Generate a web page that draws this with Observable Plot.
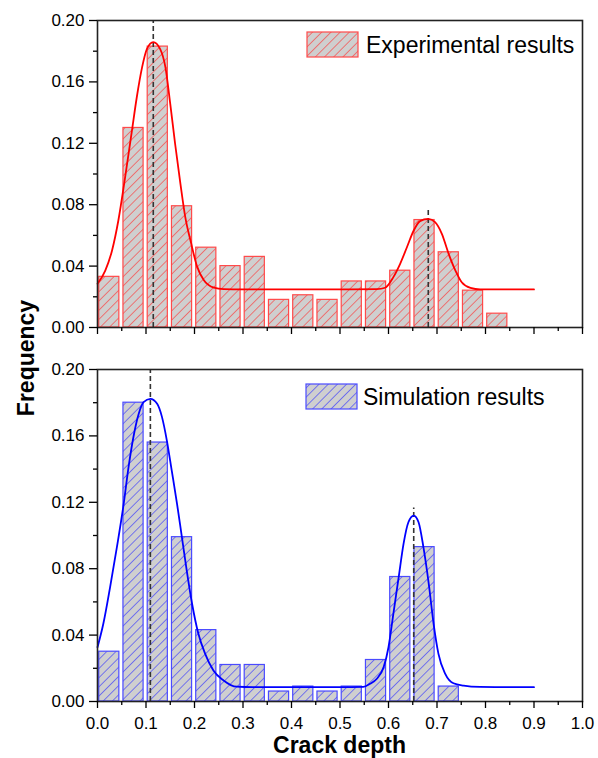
<!DOCTYPE html>
<html>
<head>
<meta charset="utf-8">
<script src="https://cdn.jsdelivr.net/npm/d3@7"></script>
<script src="https://cdn.jsdelivr.net/npm/@observablehq/plot@0.6"></script>
<style>
  body { margin: 0; background: #fff; }
  #fig { position: relative; width: 598px; height: 758px; overflow: hidden; font-family: "Liberation Sans", Arial, sans-serif; }
  #top, #bottom, #overlay { position: absolute; left: 0; }
  #top { top: 0; }
  #bottom { top: 340px; }
  #overlay { top: 0; pointer-events: none; }
</style>
</head>
<body>
<svg width="0" height="0" style="position:absolute">
  <defs>
    <pattern id="hatchRed" patternUnits="userSpaceOnUse" width="6.5" height="6.5" patternTransform="rotate(45)">
      <rect width="6.5" height="6.5" fill="#cfcfcf"></rect>
      <line x1="3.25" y1="0" x2="3.25" y2="6.5" stroke="#ee6a6a" stroke-width="0.9"></line>
    </pattern>
    <pattern id="hatchBlue" patternUnits="userSpaceOnUse" width="6.5" height="6.5" patternTransform="rotate(45)">
      <rect width="6.5" height="6.5" fill="#cfcfcf"></rect>
      <line x1="3.25" y1="0" x2="3.25" y2="6.5" stroke="#6a6aee" stroke-width="0.9"></line>
    </pattern>
  </defs>
</svg>
<div id="fig">
  <div id="top"></div>
  <div id="bottom"></div>
  <svg id="overlay" width="598" height="758"></svg>
</div>
<script>
// ---------- data ----------
const xMajor = [0.0, 0.1, 0.2, 0.3, 0.4, 0.5, 0.6, 0.7, 0.8, 0.9, 1.0];
const xMinor = [0.05, 0.15, 0.25, 0.35, 0.45, 0.55, 0.65, 0.75, 0.85, 0.95];
const yMajor = [0.00, 0.04, 0.08, 0.12, 0.16, 0.20];
const yMinor = [0.02, 0.06, 0.10, 0.14, 0.18];
const binWidth = 0.05;

// Experimental results (top)
const expBins = [0.00, 0.05, 0.10, 0.15, 0.20, 0.25, 0.30, 0.35, 0.40, 0.45, 0.50, 0.55, 0.60, 0.65, 0.70, 0.75, 0.80];
const expFreq = [0.033, 0.130, 0.183, 0.079, 0.052, 0.040, 0.046, 0.018, 0.021, 0.018, 0.030, 0.030, 0.037, 0.070, 0.049, 0.024, 0.009];
const expFitX = [0.000, 0.016, 0.030, 0.043, 0.057, 0.071, 0.081, 0.092, 0.102, 0.115, 0.129, 0.140, 0.150, 0.160, 0.171, 0.181, 0.193, 0.205, 0.219, 0.240, 0.260, 0.300, 0.400, 0.500, 0.576, 0.593, 0.610, 0.624, 0.638, 0.652, 0.665, 0.682, 0.696, 0.710, 0.724, 0.738, 0.751, 0.769, 0.789, 0.850, 0.900];
const expFitY = [0.0285, 0.0371, 0.0502, 0.0697, 0.0979, 0.1283, 0.1500, 0.1696, 0.1815, 0.1859, 0.1815, 0.1696, 0.1457, 0.1197, 0.0936, 0.0719, 0.0550, 0.0400, 0.0310, 0.0260, 0.0250, 0.0248, 0.0248, 0.0248, 0.0250, 0.0259, 0.0328, 0.0415, 0.0523, 0.0632, 0.0693, 0.0708, 0.0686, 0.0610, 0.0480, 0.0371, 0.0295, 0.0258, 0.0248, 0.0248, 0.0248];
const expPeaks = [0.115, 0.682];
const expPeakTop = [0.200, 0.077];

// Simulation results (bottom)
const simBins = [0.00, 0.05, 0.10, 0.15, 0.20, 0.25, 0.30, 0.35, 0.40, 0.45, 0.50, 0.55, 0.60, 0.65, 0.70];
const simFreq = [0.030, 0.180, 0.156, 0.099, 0.043, 0.022, 0.022, 0.006, 0.009, 0.006, 0.009, 0.025, 0.075, 0.093, 0.009];
const simFitX = [0.000, 0.012, 0.026, 0.040, 0.054, 0.064, 0.074, 0.085, 0.095, 0.109, 0.123, 0.133, 0.143, 0.153, 0.164, 0.174, 0.184, 0.195, 0.208, 0.222, 0.239, 0.260, 0.287, 0.320, 0.400, 0.500, 0.548, 0.562, 0.576, 0.590, 0.600, 0.610, 0.621, 0.631, 0.641, 0.652, 0.662, 0.672, 0.683, 0.693, 0.703, 0.717, 0.734, 0.755, 0.789, 0.850, 0.900];
const simFitY = [0.0327, 0.0468, 0.0689, 0.0930, 0.1191, 0.1412, 0.1592, 0.1733, 0.1803, 0.1823, 0.1793, 0.1713, 0.1572, 0.1392, 0.1191, 0.0990, 0.0789, 0.0589, 0.0408, 0.0287, 0.0187, 0.0127, 0.0089, 0.0086, 0.0086, 0.0086, 0.0088, 0.0107, 0.0137, 0.0207, 0.0327, 0.0528, 0.0749, 0.0950, 0.1080, 0.1120, 0.1080, 0.0930, 0.0709, 0.0468, 0.0287, 0.0167, 0.0110, 0.0096, 0.0088, 0.0086, 0.0086];
const simPeaks = [0.109, 0.652];
const simPeakTop = [0.200, 0.1165];

const legendLabels = ["Experimental results", "Simulation results"];
const xLabel = "Crack depth";
const yLabel = "Frequency";

// ---------- drawing ----------
const FONT = "Liberation Sans, Arial, sans-serif";

function panel({bins, freq, fitX, fitY, peaks, peakTop, color, barStroke, hatch, height, marginTop, marginBottom, showXLabels}) {
  const bars = bins.map((b, i) => ({x1: b, x2: b + binWidth, y: freq[i]}));
  const fit = fitX.map((x, i) => ({x, y: fitY[i]}));
  const pk = peaks.map((x, i) => ({x, y2: peakTop[i]}));
  return Plot.plot({
    width: 598,
    height,
    marginTop,
    marginBottom,
    marginLeft: 97,
    marginRight: 16,
    x: {domain: [0, 1]},
    y: {domain: [0, 0.2]},
    style: {fontFamily: FONT, fontSize: "17px", color: "#000", background: "transparent"},
    marks: [
      Plot.rectY(bars, {x1: "x1", x2: "x2", y: "y", fill: `url(#${hatch})`, stroke: barStroke, strokeWidth: 1.2, insetLeft: 1.7, insetRight: 2.4}),
      Plot.ruleX(pk, {x: "x", y1: 0, y2: "y2", stroke: "#333", strokeWidth: 1.6, strokeDasharray: "5,3"}),
      Plot.line(fit, {x: "x", y: "y", stroke: color, strokeWidth: 1.8, curve: "monotone-x"}),
      Plot.frame({stroke: "#222", strokeWidth: 1.6}),
      Plot.axisY({ticks: yMajor, tickSize: 8, tickPadding: 5, tickFormat: d3.format(".2f"), fontSize: 17, label: null, strokeWidth: 1.3}),
      Plot.axisY({ticks: yMinor, tickSize: 4, tickFormat: () => "", label: null, strokeWidth: 1.3}),
      Plot.axisX({ticks: xMajor, tickSize: 7, tickPadding: 8, tickFormat: showXLabels ? d3.format(".1f") : () => "", fontSize: 17, label: null, strokeWidth: 1.3}),
      Plot.axisX({ticks: xMinor, tickSize: 4, tickFormat: () => "", label: null, strokeWidth: 1.3})
    ]
  });
}

document.getElementById("top").append(panel({
  bins: expBins, freq: expFreq, fitX: expFitX, fitY: expFitY, peaks: expPeaks, peakTop: expPeakTop,
  color: "#ff0000", barStroke: "#ff4a4a", hatch: "hatchRed", height: 340, marginTop: 20, marginBottom: 13, showXLabels: false
}));
document.getElementById("bottom").append(panel({
  bins: simBins, freq: simFreq, fitX: simFitX, fitY: simFitY, peaks: simPeaks, peakTop: simPeakTop,
  color: "#0000ff", barStroke: "#4a4aff", hatch: "hatchBlue", height: 418, marginTop: 29, marginBottom: 57, showXLabels: true
}));

// overlay: legends and axis titles
const ov = d3.select("#overlay");
const legends = [
  {label: legendLabels[0], stroke: "#ff4a4a", hatch: "hatchRed", x: 307, y: 32, tx: 366, ty: 53},
  {label: legendLabels[1], stroke: "#4a4aff", hatch: "hatchBlue", x: 306, y: 384, tx: 363, ty: 405}
];
legends.forEach(l => {
  ov.append("rect").attr("x", l.x).attr("y", l.y).attr("width", 51).attr("height", 25)
    .attr("fill", `url(#${l.hatch})`).attr("stroke", l.stroke).attr("stroke-width", 1.2);
  ov.append("text").attr("x", l.tx).attr("y", l.ty).attr("font-family", FONT).attr("font-size", 23)
    .attr("fill", "#000").text(l.label);
});
ov.append("text").attr("x", 339.5).attr("y", 753).attr("text-anchor", "middle")
  .attr("font-family", FONT).attr("font-size", 23).attr("font-weight", "bold").attr("fill", "#000").text(xLabel);
ov.append("text").attr("transform", "translate(34,358) rotate(-90)").attr("text-anchor", "middle")
  .attr("font-family", FONT).attr("font-size", 23).attr("font-weight", "bold").attr("fill", "#000").text(yLabel);
</script>
</body>
</html>
